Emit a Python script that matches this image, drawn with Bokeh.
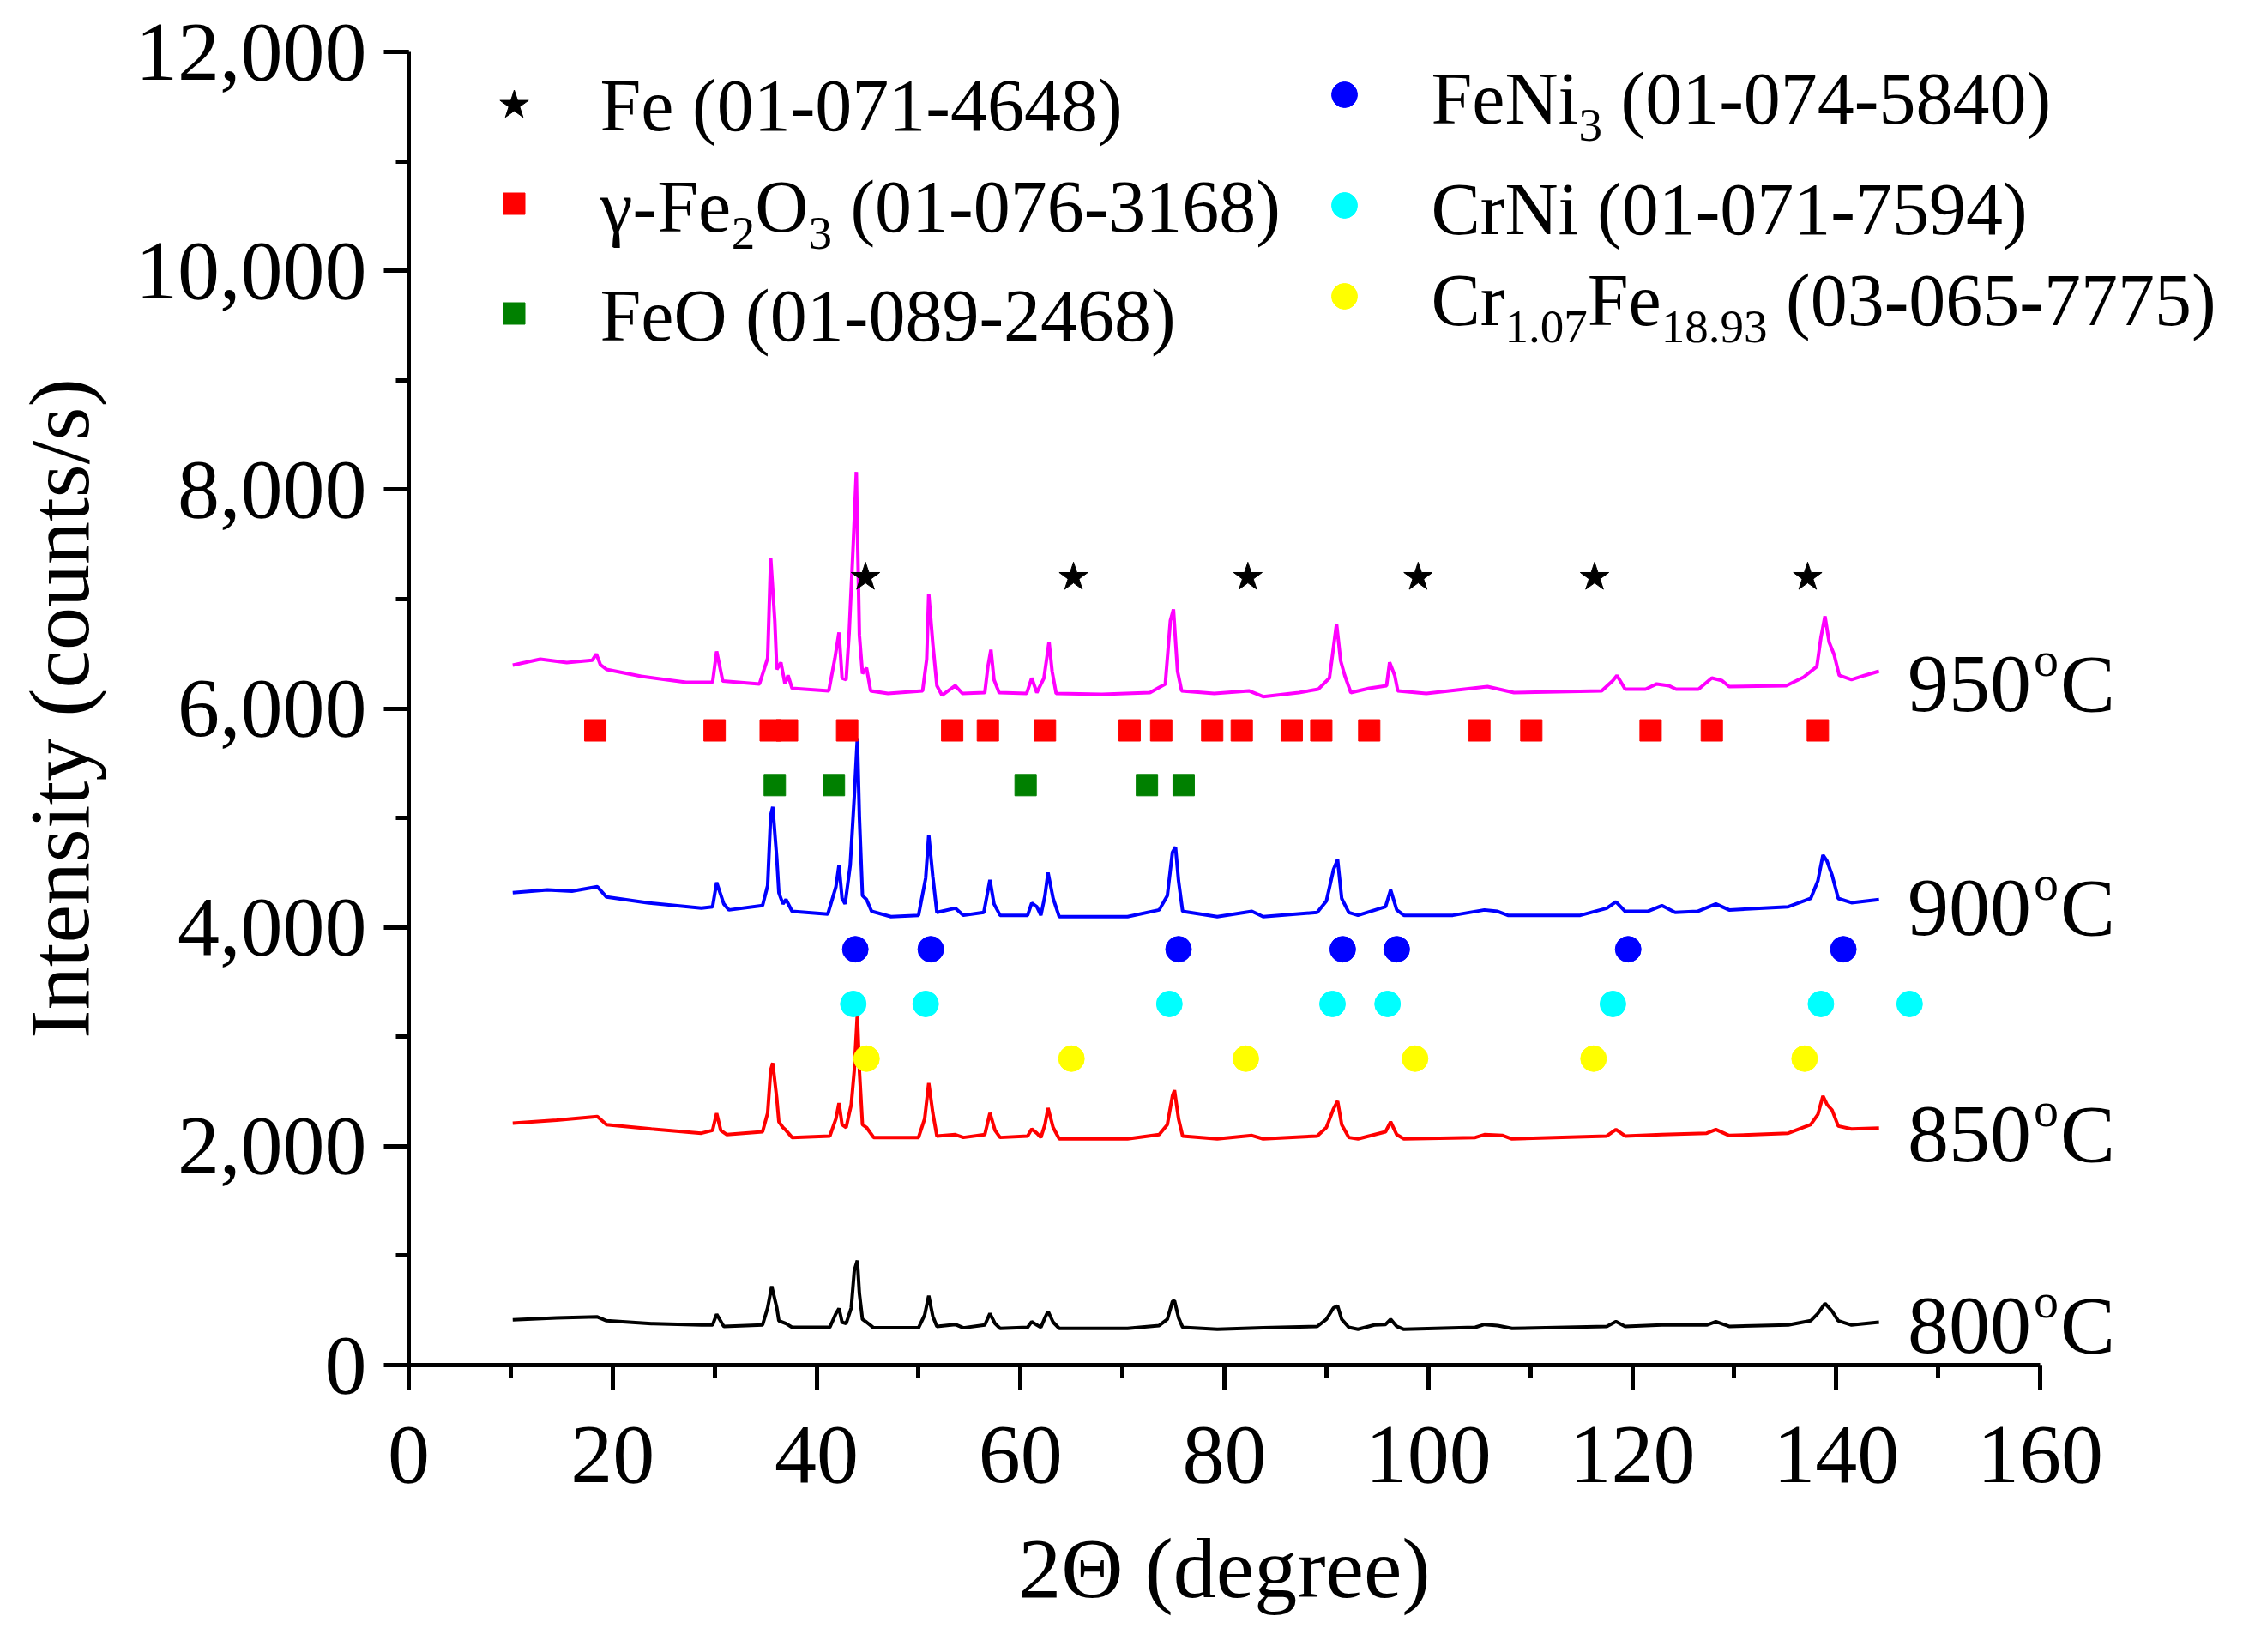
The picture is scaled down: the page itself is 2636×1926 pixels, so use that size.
from bokeh.plotting import figure
from bokeh.models import Range1d, SingleIntervalTicker, NumeralTickFormatter, Label, Title
from bokeh.embed import file_html
from bokeh.resources import INLINE

FONT = "Liberation Serif"

# XRD patterns: (2-theta in degree, intensity in counts/s)
pattern_950 = [
    (10.2, 6396), (12.9, 6451), (15.5, 6420), (18.0, 6440), (18.4, 6498), (18.8, 6400),
    (19.4, 6357), (22.8, 6294), (27.2, 6239), (29.8, 6239), (30.2, 6522), (30.8, 6250),
    (34.4, 6224), (35.2, 6459), (35.5, 7377), (35.9, 6804), (36.1, 6357), (36.5, 6420),
    (36.9, 6224), (37.2, 6302), (37.6, 6184), (41.2, 6161), (41.8, 6459), (42.2, 6695),
    (42.5, 6278), (42.9, 6263), (43.2, 6695), (43.6, 7510), (43.9, 8162), (44.2, 6671),
    (44.5, 6318), (44.9, 6372), (45.3, 6161), (47.0, 6137), (50.4, 6161), (50.8, 6451),
    (51.0, 7047), (51.4, 6592), (51.8, 6208), (52.3, 6121), (53.6, 6208), (54.3, 6137),
    (56.5, 6145), (56.8, 6380), (57.1, 6537), (57.4, 6263), (57.9, 6145), (60.6, 6137),
    (61.1, 6278), (61.6, 6145), (62.3, 6278), (62.8, 6608), (63.1, 6341), (63.5, 6137),
    (68.0, 6130), (72.7, 6145), (74.2, 6224), (74.7, 6804), (75.0, 6906), (75.4, 6341),
    (75.8, 6161), (79.0, 6137), (82.4, 6161), (83.8, 6108), (87.3, 6145), (89.2, 6176),
    (90.3, 6278), (90.8, 6632), (91.0, 6773), (91.4, 6435), (91.8, 6302), (92.4, 6145),
    (94.2, 6184), (95.9, 6208), (96.2, 6422), (96.7, 6302), (97.0, 6161), (99.8, 6137),
    (105.8, 6200), (108.4, 6145), (117.0, 6161), (118.1, 6255), (118.5, 6302), (119.3, 6176),
    (121.3, 6176), (122.4, 6224), (123.6, 6208), (124.3, 6176), (126.5, 6176), (127.8, 6278),
    (128.8, 6255), (129.5, 6200), (135.1, 6208), (136.8, 6286), (138.1, 6383), (138.5, 6647),
    (138.9, 6843), (139.3, 6608), (139.8, 6490), (140.3, 6302), (141.5, 6263), (142.8, 6302),
    (144.2, 6341),
]

pattern_900 = [
    (10.2, 4316), (13.6, 4342), (16.0, 4330), (18.5, 4371), (19.4, 4277), (23.4, 4225),
    (28.7, 4175), (29.8, 4188), (30.2, 4410), (30.9, 4214), (31.4, 4159), (34.7, 4199),
    (35.2, 4382), (35.5, 5023), (35.7, 5101), (36.1, 4630), (36.3, 4316), (36.7, 4214),
    (37.0, 4254), (37.6, 4146), (41.1, 4120), (41.9, 4371), (42.2, 4567), (42.5, 4264),
    (42.8, 4214), (43.3, 4567), (43.7, 5195), (44.0, 5729), (44.2, 5010), (44.5, 4290),
    (44.9, 4254), (45.4, 4146), (47.3, 4097), (50.0, 4110), (50.7, 4450), (51.0, 4842),
    (51.4, 4464), (51.8, 4136), (53.6, 4175), (54.4, 4110), (56.4, 4136), (57.0, 4434),
    (57.4, 4214), (58.0, 4110), (60.7, 4110), (61.1, 4222), (61.6, 4188), (62.0, 4110),
    (62.4, 4290), (62.7, 4500), (63.2, 4264), (63.8, 4097), (70.5, 4097), (73.6, 4159),
    (74.4, 4290), (74.9, 4685), (75.2, 4735), (75.5, 4424), (75.9, 4146), (79.3, 4097),
    (82.7, 4146), (83.8, 4097), (89.1, 4136), (90.0, 4240), (90.7, 4528), (91.1, 4618),
    (91.5, 4264), (92.2, 4136), (93.1, 4110), (95.8, 4188), (96.3, 4342), (96.9, 4159),
    (97.6, 4110), (102.4, 4110), (105.5, 4159), (106.8, 4146), (107.8, 4110), (114.9, 4110),
    (117.5, 4175), (118.4, 4234), (119.3, 4146), (121.5, 4146), (122.9, 4199), (124.2, 4136),
    (126.4, 4146), (128.2, 4214), (129.5, 4159), (135.3, 4188), (137.5, 4264), (138.2, 4424),
    (138.7, 4661), (139.1, 4605), (139.6, 4476), (140.2, 4264), (141.5, 4225), (144.2, 4254),
]

pattern_850 = [
    (10.2, 2211), (14.5, 2237), (18.5, 2271), (19.4, 2197), (23.8, 2158), (28.7, 2119),
    (29.8, 2145), (30.2, 2300), (30.6, 2145), (31.2, 2106), (34.7, 2132), (35.2, 2303),
    (35.5, 2694), (35.7, 2760), (36.1, 2433), (36.3, 2223), (36.7, 2171), (37.0, 2145),
    (37.6, 2080), (41.3, 2093), (41.9, 2250), (42.2, 2394), (42.5, 2197), (42.9, 2171),
    (43.4, 2381), (43.7, 2694), (44.0, 3204), (44.2, 2694), (44.5, 2197), (44.9, 2171),
    (45.6, 2080), (50.0, 2080), (50.6, 2250), (51.0, 2577), (51.4, 2303), (51.8, 2093),
    (53.6, 2106), (54.4, 2080), (56.5, 2106), (57.0, 2303), (57.5, 2145), (58.0, 2080),
    (60.7, 2093), (61.1, 2158), (61.6, 2119), (62.0, 2080), (62.4, 2197), (62.7, 2349),
    (63.2, 2171), (63.8, 2067), (70.5, 2067), (73.6, 2106), (74.4, 2197), (74.9, 2459),
    (75.1, 2511), (75.5, 2250), (75.9, 2093), (79.3, 2067), (82.7, 2098), (83.8, 2067),
    (89.1, 2093), (90.0, 2171), (90.7, 2341), (91.1, 2412), (91.5, 2197), (92.2, 2080),
    (93.1, 2067), (95.8, 2132), (96.3, 2223), (96.9, 2106), (97.6, 2067), (104.6, 2080),
    (105.5, 2106), (107.3, 2098), (108.2, 2067), (117.5, 2093), (118.4, 2153), (119.3, 2093),
    (122.9, 2106), (127.3, 2119), (128.2, 2153), (129.5, 2098), (135.3, 2119), (137.5, 2197),
    (138.2, 2289), (138.7, 2459), (139.1, 2381), (139.6, 2329), (140.2, 2184), (141.5, 2158),
    (144.2, 2166),
]

pattern_800 = [
    (10.2, 413), (14.5, 432), (18.5, 440), (19.4, 405), (23.8, 379), (28.7, 366),
    (29.8, 366), (30.2, 465), (30.9, 353), (34.7, 366), (35.2, 523), (35.6, 720),
    (36.1, 523), (36.3, 405), (37.0, 379), (37.6, 345), (41.3, 345), (41.9, 471),
    (42.2, 518), (42.5, 392), (42.9, 379), (43.4, 523), (43.7, 863), (44.0, 955),
    (44.2, 654), (44.5, 418), (44.9, 392), (45.6, 340), (50.0, 340), (50.6, 458),
    (51.0, 633), (51.4, 445), (51.8, 353), (53.6, 371), (54.4, 340), (56.5, 366),
    (57.0, 471), (57.5, 379), (58.0, 335), (60.7, 345), (61.1, 397), (61.6, 366),
    (62.0, 345), (62.4, 432), (62.7, 492), (63.2, 392), (63.8, 335), (70.5, 335),
    (73.6, 361), (74.4, 418), (74.9, 581), (75.1, 589), (75.5, 432), (75.9, 345),
    (79.3, 327), (83.8, 340), (89.1, 353), (90.0, 418), (90.7, 523), (91.1, 541),
    (91.5, 418), (92.2, 345), (93.1, 327), (94.7, 366), (95.8, 371), (96.3, 418),
    (96.9, 353), (97.6, 327), (104.6, 345), (105.5, 371), (106.8, 361), (108.2, 335),
    (117.5, 353), (118.4, 397), (119.3, 353), (122.9, 366), (127.3, 366), (128.2, 397),
    (129.5, 353), (135.3, 366), (137.5, 405), (138.2, 471), (138.9, 563), (139.6, 492),
    (140.2, 405), (141.5, 366), (144.2, 392),
]

temperatures = ["950", "900", "850", "800"]
label_baselines = [6012, 3966, 1897, 149]

# reference peak positions (2-theta) and the intensity row each is drawn on
fe_peaks = [44.8, 65.2, 82.3, 99.0, 116.3, 137.2]
fe2o3_peaks = [18.3, 30.0, 35.5, 37.1, 43.0, 53.3, 56.8, 62.4, 70.7, 73.8, 78.8, 81.7,
               86.6, 89.5, 94.2, 105.0, 110.1, 121.8, 127.8, 138.2]
feo_peaks = [35.9, 41.7, 60.5, 72.4, 76.0]
feni3_peaks = [43.8, 51.2, 75.5, 91.6, 96.9, 119.6, 140.7]
crni_peaks = [43.6, 50.7, 74.6, 90.6, 96.0, 118.1, 138.5, 147.2]
crfe_peaks = [44.9, 65.0, 82.1, 98.7, 116.2, 136.9]
row_levels = {"fe": 7200, "fe2o3": 5800, "feo": 5300, "feni3": 3800, "crni": 3300, "crfe": 2800}

X_AXIS_END, Y_MAX = 160, 12000
AXIS_W, FRAME_H = 1902, 1531          # pixels spanned by 0..160 and 0..12000
FRAME_W = 2140                        # frame runs on past 160 so labels are not clipped
X_VIEW_END = FRAME_W * X_AXIS_END / AXIS_W
TEXT_LIFT = 0.28                      # baseline correction, in em


def dx(px):
    return px * X_AXIS_END / AXIS_W


def dy(px):
    return px * Y_MAX / FRAME_H


# advance widths of Liberation Serif (em)
ADV = {" ": 0.25, "(": 0.333, ")": 0.333, "-": 0.333, ".": 0.25, "F": 0.556, "e": 0.444,
       "O": 0.722, "N": 0.722, "i": 0.278, "C": 0.667, "r": 0.333, "γ": 0.45, "Θ": 0.722,
       "d": 0.5, "g": 0.5}


def text_width(s, size):
    return sum(ADV.get(ch, 0.5) for ch in s) * size


p = figure(
    frame_width=FRAME_W, frame_height=FRAME_H,
    x_range=Range1d(0, X_VIEW_END), y_range=Range1d(0, Y_MAX),
    min_border_left=476, min_border_top=60, min_border_right=4, min_border_bottom=319,
    output_backend="svg", toolbar_location=None,
)
p.grid.visible = False
p.outline_line_color = None
p.background_fill_color = "white"
p.border_fill_color = "white"

p.xaxis.ticker = SingleIntervalTicker(interval=20, num_minor_ticks=2)
p.yaxis.ticker = SingleIntervalTicker(interval=2000, num_minor_ticks=2)
p.xaxis.bounds = (0, X_AXIS_END)
p.yaxis.formatter = NumeralTickFormatter(format="0,0")
p.yaxis.axis_label = "Intensity (counts/s)"
for ax in p.axis:
    ax.axis_line_width = 5
    ax.axis_line_color = "black"
    ax.major_tick_line_width = 5
    ax.minor_tick_line_width = 5
    ax.major_tick_line_color = "black"
    ax.minor_tick_line_color = "black"
    ax.major_tick_out = 29
    ax.major_tick_in = 0
    ax.minor_tick_out = 15
    ax.minor_tick_in = 0
    ax.major_label_text_font = FONT
    ax.major_label_text_font_size = "98px"
    ax.major_label_text_color = "black"
    ax.axis_label_text_font = FONT
    ax.axis_label_text_font_size = "100px"
    ax.axis_label_text_font_style = "normal"
    ax.axis_label_text_color = "black"
p.xaxis.major_label_standoff = 43
p.yaxis.major_label_standoff = 20
p.yaxis.axis_label_standoff = 30

# x-axis title centred under 0..160 rather than under the whole frame
x_title = "2Θ (degree)"
p.add_layout(Title(text=x_title, align="left",
                   offset=AXIS_W / 2 - text_width(x_title, 100) / 2,
                   standoff=80, text_font=FONT, text_font_size="100px",
                   text_font_style="normal", text_color="black"), "below")

patterns = [pattern_950, pattern_900, pattern_850, pattern_800]
colors = ["#ff00ff", "#0000ff", "#ff0000", "#000000"]
for pattern, color in zip(patterns, colors):
    xs, ys = zip(*pattern)
    p.line(list(xs), list(ys), line_color=color, line_width=4)

# peak position markers
phases = [
    (fe_peaks, "fe", "star", "black", 35),
    (fe2o3_peaks, "fe2o3", "square", "#ff0000", 25),
    (feo_peaks, "feo", "square", "#008000", 25),
    (feni3_peaks, "feni3", "circle", "#0000ff", 30),
    (crni_peaks, "crni", "circle", "#00ffff", 30),
    (crfe_peaks, "crfe", "circle", "#ffff00", 30),
]
for peaks, key, marker, color, size in phases:
    p.scatter(peaks, [row_levels[key]] * len(peaks), marker=marker, size=size,
              fill_color=color, line_color=color)


def put_text(x, y, text, size):
    y = y + dy(TEXT_LIFT * size)
    p.add_layout(Label(x=x, y=y, text=text, text_font=FONT, text_font_size=f"{size}px",
                       text_color="black", text_align="left", text_baseline="alphabetic"))


# temperature labels with a raised "o"
for temp, base in zip(temperatures, label_baselines):
    x0 = 147.0
    put_text(x0, base, temp, 96)
    put_text(x0 + dx(147), base + dy(40), "o", 58)
    put_text(x0 + dx(178), base, "C", 96)

# hand-built legend (subscripts need separate runs)
MAIN, SUB, SUB_DROP = 86, 55, 22
legend_entries = [
    (phases[0], (123, 62), (223, 87), [("Fe (01-071-4648)", False)]),
    (phases[1], (123, 177), (223, 205),
     [("γ-Fe", False), ("2", True), ("O", False), ("3", True), (" (01-076-3168)", False)]),
    (phases[2], (123, 305), (223, 332), [("FeO (01-089-2468)", False)]),
    (phases[3], (1091, 50), (1192, 79), [("FeNi", False), ("3", True), (" (01-074-5840)", False)]),
    (phases[4], (1091, 179), (1192, 208), [("CrNi (01-071-7594)", False)]),
    (phases[5], (1091, 285), (1192, 314),
     [("Cr", False), ("1.07", True), ("Fe", False), ("18.93", True), (" (03-065-7775)", False)]),
]
for (peaks, key, marker, color, size), (mx, my), (tx, ty), runs in legend_entries:
    p.scatter([dx(mx)], [Y_MAX - dy(my)], marker=marker, size=size,
              fill_color=color, line_color=color)
    cursor = tx
    for run, is_sub in runs:
        fs = SUB if is_sub else MAIN
        lead = len(run) - len(run.lstrip(" "))
        cursor += lead * ADV[" "] * fs
        run = run.lstrip(" ")
        base = ty + (SUB_DROP if is_sub else 0)
        put_text(dx(cursor), Y_MAX - dy(base), run, fs)
        cursor += text_width(run, fs)

open("out.html", "w").write(file_html(p, INLINE))
